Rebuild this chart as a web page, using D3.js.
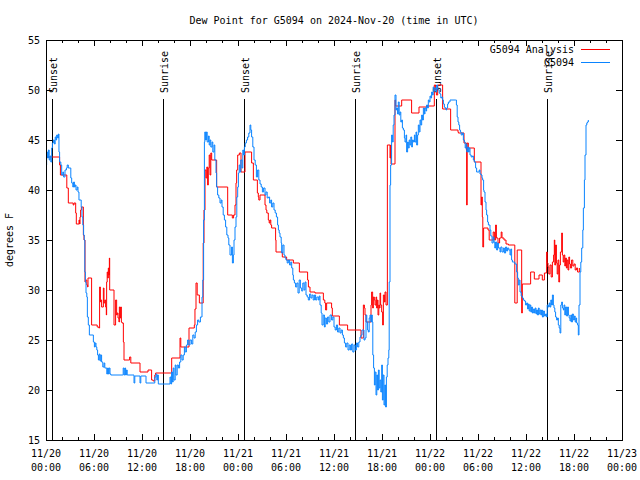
<!DOCTYPE html>
<html>
<head>
<meta charset="utf-8">
<script src="https://cdn.jsdelivr.net/npm/d3@7"></script>
<style>
html,body{margin:0;padding:0;background:#fff;}
svg{display:block;}
text{font-family:"DejaVu Sans Mono",monospace;font-size:10px;fill:#000;}
</style>
</head>
<body>
<script>
// ---- data (hours since 2024-11-20 00:00 UTC) ----
const chartTitle = "Dew Point for G5094 on 2024-Nov-20 (time in UTC)";
const yLabel = "degrees F";
const seriesNames = ["G5094 Analysis", "G5094"];
const yTicks = [15, 20, 25, 30, 35, 40, 45, 50, 55];
const sunEventNames = ["Sunset", "Sunrise", "Sunset", "Sunrise", "Sunset", "Sunrise"];
const sunEventHours = [0.78, 14.66, 24.76, 38.66, 48.72, 62.66];

const obsHours = [0.0,0.08,0.2,0.3,0.4,0.5,0.6,0.71,0.8,0.92,1.05,1.15,1.25,1.33,1.45,1.55,1.62,1.7,1.85,1.96,2.1,2.2,2.375,2.55,2.65,2.79,3.1,3.21,3.35,3.45,3.55,3.65,3.75,3.9,4.0,4.12,4.25,4.4,4.5,4.6,4.7,4.78,4.85,4.92,5.0,5.1,5.17,5.29,5.42,5.92,6.05,6.15,6.25,6.35,6.45,6.55,6.65,6.75,6.85,6.95,7.1,7.25,7.35,7.5,7.6,7.7,7.8,7.9,8.0,8.1,9.6,9.65,9.75,9.85,9.95,10.05,10.15,11.0,11.1,11.75,11.85,12.45,12.5,13.5,13.6,13.75,13.85,13.95,14.04,15.5,15.6,15.7,15.8,15.9,16.0,16.15,16.25,16.4,16.55,16.7,16.85,17.0,17.15,17.3,17.4,17.55,17.7,17.85,18.0,18.2,18.35,18.5,18.65,18.8,18.95,19.1,19.3,19.5,19.6,19.7,19.8,19.85,19.95,20.05,20.15,20.3,20.4,20.5,20.6,20.75,20.85,21.0,21.1,21.25,21.33,21.45,21.6,21.75,21.9,22.0,22.15,22.3,22.45,22.6,22.75,22.85,23.0,23.2,23.3,23.42,23.5,23.625,23.75,23.85,23.96,24.05,24.15,24.25,24.35,24.5,24.6,24.7,24.8,24.9,25.05,25.2,25.35,25.5,25.6,25.7,25.85,26.0,26.15,26.3,26.45,26.6,26.75,26.9,27.05,27.2,27.375,27.5,27.65,27.8,27.95,28.1,28.2,28.35,28.5,28.65,28.8,28.95,29.05,29.15,29.25,29.4,29.46,29.6,29.75,29.875,30.0,30.15,30.29,30.45,30.6,30.71,30.85,30.92,31.05,31.2,31.35,31.5,31.65,31.8,31.96,32.1,32.25,32.375,32.5,32.65,32.79,32.95,33.1,33.25,33.4,33.55,33.7,33.85,34.04,34.15,34.25,34.4,34.5,34.65,34.8,34.9,35.05,35.2,35.35,35.5,35.7,35.85,36.0,36.15,36.3,36.45,36.6,36.75,36.9,37.05,37.17,37.3,37.45,37.6,37.75,37.9,38.05,38.2,38.35,38.5,38.65,38.8,38.95,39.1,39.25,39.375,39.5,39.6,39.75,39.875,40.0,40.1,40.2,40.29,40.4,40.5,40.6,40.7,40.79,40.85,40.95,41.05,41.15,41.25,41.35,41.45,41.55,41.65,41.75,41.85,41.96,42.05,42.15,42.25,42.35,42.45,42.55,42.65,42.75,42.85,42.9,43.0,43.08,43.2,43.3,43.4,43.5,43.625,43.75,43.83,43.95,44.04,44.15,44.25,44.35,44.46,44.55,44.67,44.8,44.875,45.0,45.08,45.2,45.29,45.4,45.5,45.6,45.71,45.8,45.92,46.05,46.125,46.25,46.33,46.45,46.54,46.65,46.75,46.85,46.96,47.05,47.17,47.3,47.375,47.5,47.58,47.7,47.79,47.9,48.0,48.1,48.2,48.3,48.4,48.5,48.625,48.75,48.83,48.95,49.04,49.15,49.25,49.35,49.46,49.58,49.67,49.8,49.875,50.0,50.08,50.2,50.3,50.5,51.2,51.3,51.4,51.5,51.6,51.7,51.8,51.9,52.05,52.17,52.3,52.4,52.5,52.6,52.7,52.8,52.9,53.0,53.15,53.3,53.42,53.55,53.7,53.83,54.0,54.15,54.25,54.4,54.5,54.58,54.7,54.75,54.875,55.0,55.08,55.2,55.3,55.5,55.6,55.75,55.9,56.0,56.1,56.2,56.33,56.45,56.55,56.75,56.85,57.0,57.17,57.3,57.45,57.58,57.7,57.85,58.0,58.1,58.2,58.3,58.42,58.6,58.83,58.95,59.04,59.15,59.25,59.4,59.54,59.67,59.8,59.95,60.08,60.2,60.3,60.4,60.5,60.6,60.7,60.8,60.92,61.05,61.15,61.25,61.33,61.45,61.55,61.65,61.75,61.85,61.95,62.05,62.17,62.3,62.45,62.58,62.65,62.79,62.9,63.0,63.1,63.2,63.3,63.42,63.5,63.6,63.7,63.83,63.95,64.04,64.15,64.25,64.35,64.46,64.55,64.67,64.75,64.85,64.95,65.08,65.2,65.3,65.4,65.5,65.6,65.7,65.8,65.92,66.05,66.15,66.25,66.33,66.45,66.54,66.625,66.75,66.85,66.96,67.1,67.17,67.3,67.375,67.5,67.6,67.67,67.79];
const obsValues = [42.5,43.8,43.2,44.0,43.0,43.4,42.8,44.2,44.7,45.0,44.6,45.3,45.0,45.5,45.2,45.6,43.8,42.8,42.5,41.5,41.8,41.3,42.0,42.2,42.5,42.2,41.2,40.7,40.3,40.8,40.3,40.5,40.0,40.3,39.8,39.0,39.0,38.3,37.3,36.5,35.5,35.0,31.8,30.8,29.7,29.3,27.3,26.5,25.5,24.8,24.3,24.7,24.3,24.0,23.5,23.0,23.6,22.9,23.5,22.8,22.3,22.7,22.2,22.2,21.6,22.2,21.6,22.2,21.6,21.5,21.5,22.2,21.5,22.2,21.5,22.0,21.5,20.7,21.4,20.7,21.4,21.4,20.7,20.7,21.3,21.6,21.0,21.5,20.6,21.3,20.6,21.8,20.8,22.2,21.0,22.5,21.5,22.5,22.2,22.8,23.5,23.0,23.5,24.3,23.8,24.5,25.0,24.5,25.0,24.6,25.5,25.2,25.8,26.5,27.0,26.8,27.3,29.3,31.0,37.0,44.8,45.8,45.0,45.8,44.8,45.4,44.5,45.0,44.3,44.8,43.8,44.5,43.0,41.7,40.3,39.5,39.2,38.7,39.0,38.3,37.5,37.0,36.3,35.5,35.2,34.5,33.5,34.3,32.7,33.5,35.0,36.3,37.3,39.3,40.3,41.7,42.5,41.8,43.0,42.2,44.0,43.5,44.3,44.7,45.0,45.3,45.7,46.5,46.0,45.3,44.3,43.0,42.5,41.3,42.0,41.0,40.6,40.3,39.8,40.2,39.5,39.8,39.2,39.3,38.7,39.0,38.3,38.7,38.0,37.7,37.3,36.5,36.0,35.7,35.3,34.7,33.7,34.5,33.5,33.2,33.0,32.7,33.0,32.5,32.8,32.2,31.5,31.0,30.7,30.3,30.7,29.7,31.0,30.2,29.9,30.7,30.0,30.8,29.5,29.3,29.0,29.6,29.2,29.5,29.0,29.5,29.0,29.3,29.0,29.4,28.5,27.7,26.5,27.5,26.3,27.2,26.6,27.3,26.8,27.5,27.0,27.3,26.3,26.0,26.5,25.8,26.2,25.7,26.0,25.5,25.2,24.7,24.3,24.7,24.0,24.5,24.0,24.6,23.8,24.5,24.0,24.7,24.3,24.8,25.3,25.5,26.0,26.0,25.0,25.2,27.5,26.8,26.0,25.8,27.2,27.5,26.8,27.5,26.8,23.5,22.2,20.5,21.8,19.5,21.5,20.0,22.0,20.2,21.0,19.8,22.5,19.0,21.5,18.5,20.5,18.3,21.3,22.5,23.2,24.0,30.8,40.5,42.5,45.5,44.8,46.5,47.5,49.5,48.0,48.2,47.6,48.8,47.5,47.8,46.8,47.0,46.2,46.0,45.2,44.8,45.5,43.8,44.8,44.2,45.0,44.5,45.3,44.3,45.0,44.8,45.5,44.8,45.8,44.5,45.5,46.5,45.8,47.0,46.5,47.5,47.0,48.2,47.6,48.2,47.9,48.5,48.2,49.0,48.8,49.4,49.2,49.8,49.5,50.3,49.9,50.2,49.8,50.5,50.1,50.0,49.7,49.6,49.2,49.3,49.0,48.6,48.3,48.2,48.0,48.2,48.6,48.8,49.0,49.0,48.5,47.3,46.8,46.5,46.0,45.8,45.5,45.7,45.0,44.8,44.2,44.6,43.8,44.3,43.8,44.2,43.5,43.3,43.4,43.0,42.8,42.2,41.8,41.8,42.0,41.6,41.5,41.2,41.0,40.0,39.8,38.8,38.0,37.5,36.8,36.5,36.0,35.4,34.7,35.3,34.8,34.2,34.8,34.0,34.7,34.2,33.8,34.3,33.8,34.2,33.7,34.3,33.9,34.2,34.0,33.5,34.1,33.0,32.8,32.8,32.6,31.8,31.2,30.5,31.0,29.8,29.4,29.2,29.0,28.9,28.5,28.7,28.1,28.6,27.9,28.5,27.8,28.3,27.7,28.1,27.7,28.2,27.6,28.0,27.5,28.2,27.6,28.0,27.5,28.0,27.3,27.9,27.4,27.6,27.3,28.5,28.3,28.7,28.3,29.0,28.5,29.5,28.5,28.2,27.8,27.3,27.0,27.2,26.5,26.2,25.7,28.5,28.8,28.2,28.0,28.5,27.5,28.3,27.4,28.3,27.5,27.2,26.9,27.5,26.8,27.6,27.0,27.4,26.8,27.2,26.7,26.5,25.5,28.5,31.8,32.8,34.2,36.0,38.2,41.0,43.5,46.5,46.7,46.8,47.0];

const anaHours = [0.0,1.7,1.8,2.6,2.79,3.4,3.5,3.71,3.79,4.125,4.2,4.25,4.33,4.42,4.67,4.75,4.875,4.95,5.1,5.2,5.25,5.7,6.4,6.6,6.7,6.8,6.85,6.95,7.17,7.25,7.35,7.45,7.54,7.58,7.65,7.72,7.79,7.85,7.92,7.96,8.5,8.7,8.83,8.9,9.0,9.12,9.17,9.25,9.33,9.42,9.5,9.67,9.75,10.45,10.6,11.75,12.75,13.2,13.4,13.6,13.7,15.71,16.75,16.85,17.875,18.54,18.62,18.75,18.9,19.17,19.65,19.75,19.875,20.0,20.1,20.2,20.29,20.4,20.5,20.6,20.71,21.33,22.71,23.29,23.45,23.625,23.75,23.83,23.96,24.17,24.375,24.875,25.7,25.92,26.42,26.54,26.6,26.75,27.375,27.5,27.6,27.79,27.9,28.0,28.1,28.2,28.7,28.75,29.54,30.08,30.92,31.67,32.7,32.8,33.0,33.625,34.67,34.85,34.95,35.08,35.7,35.79,36.67,37.7,39.375,39.67,39.8,39.875,40.0,40.625,40.7,40.83,40.92,41.04,41.125,41.25,41.33,41.42,41.5,41.6,41.67,41.75,41.83,41.96,42.08,42.17,42.3,42.375,42.5,42.67,43.0,43.08,43.125,43.625,43.7,44.46,45.7,46.625,47.58,48.54,48.7,48.8,48.96,49.58,50.58,51.5,51.54,52.25,52.55,52.58,52.65,52.79,53.54,54.375,54.45,54.54,54.6,54.7,55.25,55.4,55.7,55.9,56.05,56.2,56.3,56.5,56.7,56.9,57.0,57.25,57.5,57.8,58.6,58.9,59.46,59.54,60.58,61.04,61.625,62.04,62.3,62.58,62.65,62.75,62.85,63.0,63.15,63.3,63.45,63.54,63.6,63.7,63.8,63.9,64.0,64.1,64.2,64.3,64.46,64.55,64.65,64.75,64.85,64.95,65.05,65.15,65.25,65.35,65.45,65.55,65.7,65.85,66.0,66.15,66.3,66.45,66.67];
const anaValues = [43.3,42.5,41.5,40.2,38.7,38.5,38.7,37.7,36.6,37.0,36.6,37.3,38.0,38.3,35.5,35.0,30.8,31.0,30.5,30.3,31.2,26.5,26.3,26.2,30.3,28.8,29.0,28.3,30.2,28.7,29.0,28.3,27.5,30.8,31.8,31.2,32.2,31.5,33.2,30.0,26.5,29.0,27.5,27.7,27.2,26.8,28.3,27.2,28.3,26.8,26.7,24.8,23.0,23.3,22.7,21.8,22.0,21.0,20.9,21.5,21.7,23.2,25.2,24.3,26.2,26.5,28.1,30.7,29.5,28.7,34.7,38.0,42.0,41.2,42.3,40.5,42.2,43.5,41.5,43.7,43.0,40.3,37.5,37.2,37.5,38.5,40.7,42.0,43.5,43.7,41.8,43.8,42.7,41.0,39.7,39.3,39.0,39.5,38.5,38.0,37.7,37.0,36.7,37.0,36.5,36.2,35.0,33.8,33.3,33.0,32.7,31.8,31.0,30.3,29.8,29.7,29.0,28.7,28.0,28.7,28.2,27.4,26.5,26.0,25.2,28.5,28.2,27.5,26.8,28.5,29.8,28.2,29.3,29.0,28.5,29.3,28.2,29.0,27.5,28.5,28.2,29.7,28.5,27.8,26.5,29.5,28.8,29.8,28.5,44.5,43.2,44.5,42.6,49.0,48.4,49.0,47.7,48.3,48.4,50.5,50.0,49.5,50.5,48.1,46.0,45.8,45.7,44.7,44.0,38.5,44.7,44.2,42.8,38.5,39.3,37.3,34.3,36.2,36.0,35.0,35.0,35.8,35.0,36.5,35.2,34.7,35.2,35.8,35.2,35.0,34.6,34.5,28.7,34.0,27.7,30.6,31.8,31.1,31.5,31.0,31.7,33.8,32.7,32.3,31.6,32.5,31.3,32.8,33.5,35.0,32.5,34.5,32.7,31.6,33.0,30.8,32.5,33.8,35.7,33.5,32.8,33.5,32.4,33.2,32.2,33.0,32.0,33.3,32.6,32.2,33.0,32.4,32.6,32.0,32.2,31.8,32.2];

// ---- layout ----
const W = 640, H = 480;
const M = {left: 46, right: 622, top: 40, bottom: 440};
const base = Date.UTC(2024, 10, 20, 0, 0);
const toDate = h => new Date(base + h * 3600e3);

const svg = d3.select("body").append("svg").attr("width", W).attr("height", H);

const x = d3.scaleUtc().domain([toDate(0), toDate(72)]).range([M.left, M.right]);
const y = d3.scaleLinear().domain([15, 55]).range([M.bottom, M.top]);

// title
svg.append("text").attr("x", (M.left + M.right) / 2).attr("y", 24)
  .attr("text-anchor", "middle").text(chartTitle);

// y label
svg.append("text").attr("transform", `translate(13,${(M.top + M.bottom) / 2}) rotate(-90)`)
  .attr("text-anchor", "middle").text(yLabel);

// ticks
const majorX = d3.utcHour.every(6).range(toDate(0), toDate(72.01));
const minorX = d3.utcHour.every(2).range(toDate(0), toDate(72.01)).filter(d => d.getUTCHours() % 6 !== 0);
const g = svg.append("g").attr("stroke", "#000").attr("stroke-width", 1).attr("shape-rendering", "crispEdges");
majorX.forEach(d => {
  const px = Math.round(x(d)) + 0.5;
  g.append("line").attr("x1", px).attr("x2", px).attr("y1", M.bottom).attr("y2", M.bottom - 6);
  g.append("line").attr("x1", px).attr("x2", px).attr("y1", M.top).attr("y2", M.top + 6);
});
minorX.forEach(d => {
  const px = Math.round(x(d)) + 0.5;
  g.append("line").attr("x1", px).attr("x2", px).attr("y1", M.bottom).attr("y2", M.bottom - 3);
  g.append("line").attr("x1", px).attr("x2", px).attr("y1", M.top).attr("y2", M.top + 3);
});
yTicks.forEach(v => {
  const py = Math.round(y(v)) + 0.5;
  g.append("line").attr("x1", M.left).attr("x2", M.left + 6).attr("y1", py).attr("y2", py);
  g.append("line").attr("x1", M.right).attr("x2", M.right - 6).attr("y1", py).attr("y2", py);
});

// tick labels
const fmtDay = d3.utcFormat("%m/%d"), fmtHr = d3.utcFormat("%H:%M");
majorX.forEach(d => {
  const t = svg.append("text").attr("text-anchor", "middle");
  t.append("tspan").attr("x", x(d)).attr("y", 457).text(fmtDay(d));
  t.append("tspan").attr("x", x(d)).attr("y", 471).text(fmtHr(d));
});
yTicks.forEach(v => {
  svg.append("text").attr("x", 40).attr("y", y(v)).attr("dy", "0.35em")
    .attr("text-anchor", "end").text(v);
});

// sunrise / sunset
sunEventHours.forEach((h, i) => {
  const px = Math.round(x(toDate(h))) + 0.5;
  svg.append("line").attr("x1", px).attr("x2", px).attr("y1", 99).attr("y2", M.bottom)
    .attr("stroke", "#000").attr("stroke-width", 1).attr("shape-rendering", "crispEdges");
  svg.append("text").attr("transform", `translate(${px + 0.5},93) rotate(-90)`)
    .attr("text-anchor", "start").attr("dy", "0.35em").text(sunEventNames[i]);
});

// series
const line = d3.line().x(d => x(d[0])).y(d => y(d[1])).curve(d3.curveStepAfter);
const anaData = anaHours.map((h, i) => [toDate(h), anaValues[i]]);
const obsData = obsHours.map((h, i) => [toDate(h), obsValues[i]]);
const colors = ["#ff0000", "#0a84ff"];
svg.append("path").datum(anaData).attr("fill", "none").attr("stroke", colors[0])
  .attr("stroke-width", 1).attr("d", line);
svg.append("path").datum(obsData).attr("fill", "none").attr("stroke", colors[1])
  .attr("stroke-width", 1).attr("d", line);

// legend
seriesNames.forEach((name, i) => {
  const ly = 49 + i * 13;
  svg.append("text").attr("x", 574).attr("y", ly).attr("dy", "0.35em")
    .attr("text-anchor", "end").text(name);
  svg.append("line").attr("x1", 581).attr("x2", 610).attr("y1", ly + 0.5).attr("y2", ly + 0.5)
    .attr("stroke", colors[i]).attr("stroke-width", 1);
});

// border
svg.append("rect").attr("x", M.left + 0.5).attr("y", M.top + 0.5)
  .attr("width", M.right - M.left).attr("height", M.bottom - M.top)
  .attr("fill", "none").attr("stroke", "#000").attr("stroke-width", 1);
</script>
</body>
</html>
